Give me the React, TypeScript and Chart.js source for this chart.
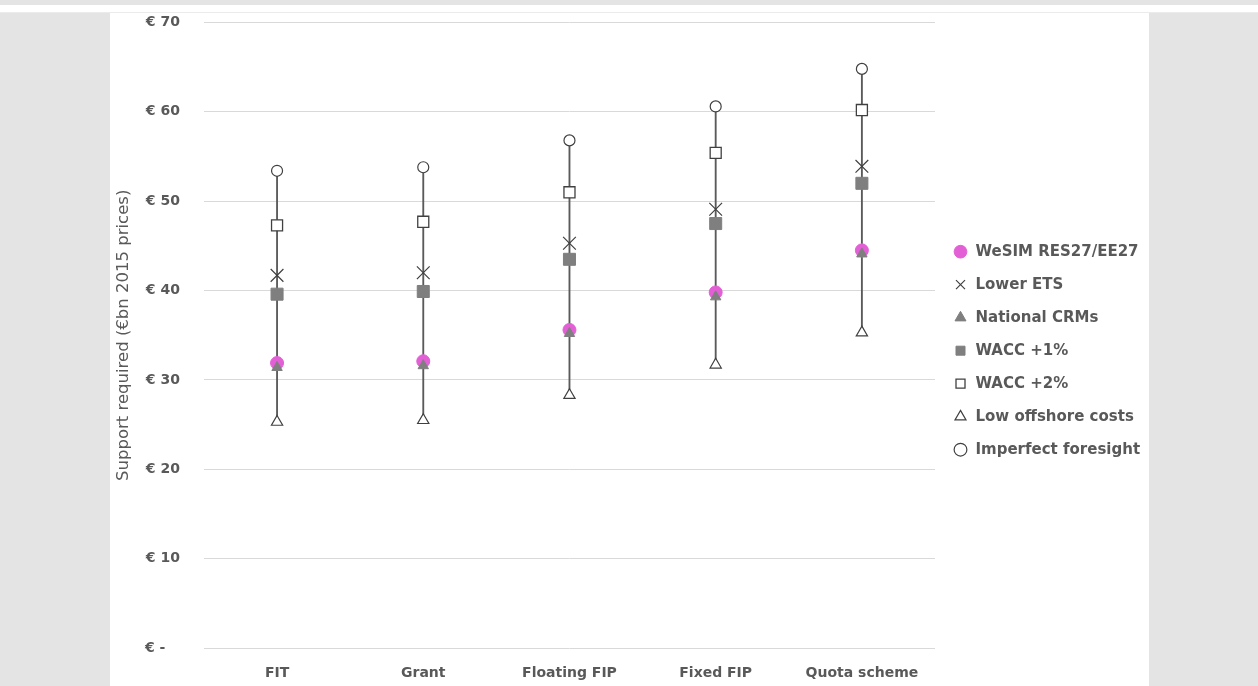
import { useEffect, useRef } from "react";
import { Chart, registerables } from "chart.js";

Chart.register(...registerables);

const categories = ["FIT", "Grant", "Floating FIP", "Fixed FIP", "Quota scheme"];

// support required, €bn 2015 prices
const wesim = [31.9, 32.1, 35.6, 39.8, 44.5];
const lowerEts = [41.7, 42.0, 45.3, 49.1, 53.9];
const nationalCrms = [31.4, 31.6, 35.2, 39.3, 44.1];
const wacc1 = [39.6, 39.9, 43.5, 47.5, 52.0];
const wacc2 = [47.3, 47.7, 51.0, 55.4, 60.2];
const lowOffshore = [25.3, 25.5, 28.3, 31.7, 35.3];
const imperfect = [53.4, 53.8, 56.8, 60.6, 64.8];

const yTicks = [0, 10, 20, 30, 40, 50, 60, 70];

const TEXT = "#595959";
const DARK = "#404040";
const GREY = "#7f7f7f";

function marker(label: string, data: number[], style: any, order: number) {
  return {
    type: "line" as const,
    label,
    data,
    showLine: false,
    order,
    ...style,
  };
}

export default function App() {
  const canvasRef = useRef<HTMLCanvasElement>(null);

  useEffect(() => {
    if (!canvasRef.current) return;
    Chart.defaults.font.family = "'DejaVu Sans', sans-serif";

    const chart = new Chart(canvasRef.current, {
      type: "bar",
      data: {
        labels: categories,
        datasets: [
          marker("WeSIM RES27/EE27", wesim, {
            pointStyle: "circle",
            pointRadius: 6.5,
            pointBackgroundColor: "#e35fd5",
            pointBorderColor: "#e35fd5",
            pointBorderWidth: 1,
          }, 7),
          marker("Lower ETS", lowerEts, {
            pointStyle: "crossRot",
            pointRadius: 9,
            pointBackgroundColor: "#ffffff",
            pointBorderColor: DARK,
            pointBorderWidth: 1.2,
          }, 6),
          marker("National CRMs", nationalCrms, {
            pointStyle: "triangle",
            pointRadius: 6,
            pointBackgroundColor: GREY,
            pointBorderColor: GREY,
            pointBorderWidth: 1,
          }, 5),
          marker("WACC +1%", wacc1, {
            pointStyle: "rect",
            pointRadius: 8.5,
            pointBackgroundColor: GREY,
            pointBorderColor: GREY,
            pointBorderWidth: 1,
          }, 4),
          marker("WACC +2%", wacc2, {
            pointStyle: "rect",
            pointRadius: 7.8,
            pointBackgroundColor: "#ffffff",
            pointBorderColor: DARK,
            pointBorderWidth: 1.3,
          }, 3),
          marker("Low offshore costs", lowOffshore, {
            pointStyle: "triangle",
            pointRadius: 6.5,
            pointBackgroundColor: "#ffffff",
            pointBorderColor: DARK,
            pointBorderWidth: 1.2,
          }, 2),
          marker("Imperfect foresight", imperfect, {
            pointStyle: "circle",
            pointRadius: 5.5,
            pointBackgroundColor: "#ffffff",
            pointBorderColor: DARK,
            pointBorderWidth: 1.2,
          }, 1),
          {
            type: "bar" as const,
            label: "range",
            data: categories.map((_, i) => [lowOffshore[i], imperfect[i]]) as any,
            backgroundColor: "#5a5a5a",
            barThickness: 1.2,
            order: 10,
          },
        ],
      },
      options: {
        animation: false,
        responsive: true,
        maintainAspectRatio: false,
        events: [],
        layout: { padding: { top: 2, bottom: 4, left: 0, right: 0 } },
        plugins: {
          tooltip: { enabled: false },
          legend: {
            position: "right",
            align: "center",
            maxWidth: 214,
            title: { display: true, text: " ", font: { size: 2 }, padding: { top: 4, bottom: 4 } },
            labels: {
              usePointStyle: true,
              boxWidth: 17,
              boxHeight: 9,
              padding: 18,
              color: TEXT,
              font: { size: 15, weight: "bold" },
              filter: (item: any) => item.text !== "range",
              sort: (a: any, b: any) => a.datasetIndex - b.datasetIndex,
            },
          },
        },
        scales: {
          x: {
            type: "category",
            offset: true,
            grid: { display: false, drawTicks: false },
            border: { display: false },
            ticks: {
              color: TEXT,
              padding: 17,
              font: { size: 14, weight: "bold" },
            },
          },
          y: {
            min: 0,
            max: 70,
            afterBuildTicks: (axis: any) => {
              axis.ticks = yTicks.map((v) => ({ value: v }));
            },
            grid: { color: "#d9d9d9", lineWidth: 1, drawTicks: false },
            border: { display: false },
            ticks: {
              color: TEXT,
              padding: 24,
              font: { size: 14, weight: "bold" },
              // accounting style: the dash for zero sits left of the digits
              callback: (v: any) => (Number(v) === 0 ? "€ -   " : "€ " + v),
            },
            title: {
              display: true,
              text: "Support required (€bn 2015 prices)",
              color: TEXT,
              font: { size: 16.5, weight: "normal" },
              padding: { top: 4, bottom: -12.9 },
            },
          },
        },
      },
    });

    return () => {
      chart.destroy();
    };
  }, []);

  return (
    <div style={{ position: "fixed", inset: 0, background: "#e4e4e4", overflow: "hidden" }}>
      <div
        style={{
          position: "absolute",
          left: 0,
          right: 0,
          top: 5,
          height: 7,
          background: "#ffffff",
          borderBottom: "1px solid #ebebeb",
        }}
      />
      <div
        style={{
          position: "absolute",
          left: 110,
          top: 13,
          width: 1039,
          height: 673,
          background: "#ffffff",
        }}
      />
      <div
        style={{
          position: "absolute",
          left: 110,
          top: -10,
          width: 1039,
          height: 713,
        }}
      >
        <canvas ref={canvasRef} />
      </div>
    </div>
  );
}
